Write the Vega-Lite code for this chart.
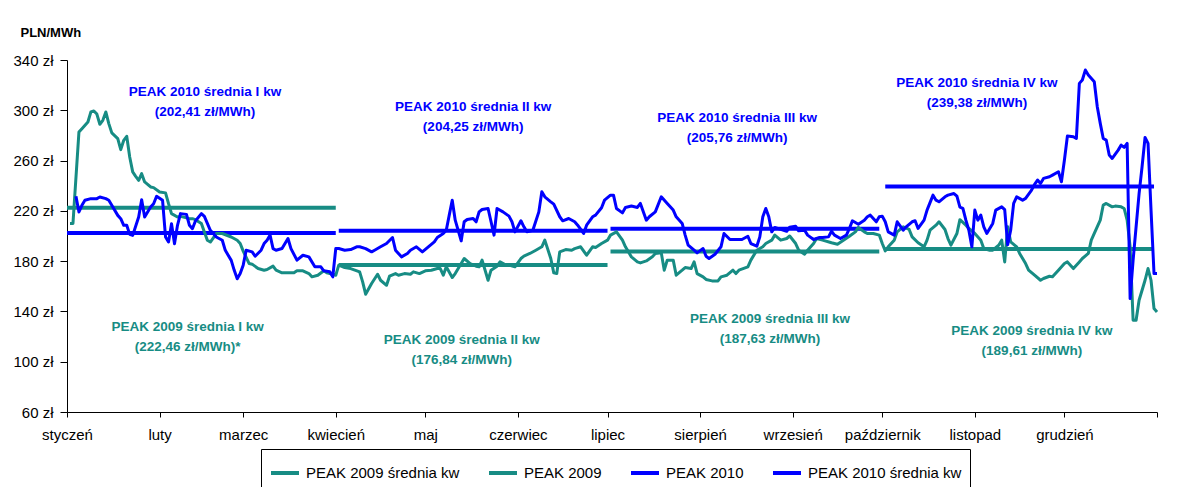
{
  "$schema": "https://vega.github.io/schema/vega-lite/v6.json",
  "width": 1090,
  "height": 352,
  "autosize": {"type": "none"},
  "padding": {"left": 67, "top": 60, "right": 29, "bottom": 75},
  "background": "white",
  "config": {
    "font": "Liberation Sans",
    "view": {"stroke": null},
    "axis": {"grid": false, "domainColor": "black", "tickColor": "black", "labelColor": "black", "labelFontSize": 15, "labelFont": "Liberation Sans", "domainWidth": 1, "tickWidth": 1}
  },
  "datasets": {
    "srednie": [
      {"seria": "PEAK 2009 średnia kw", "od": 0, "do": 90, "cena": 222.46},
      {"seria": "PEAK 2009 średnia kw", "od": 91, "do": 181, "cena": 176.84},
      {"seria": "PEAK 2009 średnia kw", "od": 182, "do": 272, "cena": 187.63},
      {"seria": "PEAK 2009 średnia kw", "od": 274, "do": 364, "cena": 189.61},
      {"seria": "PEAK 2010 średnia kw", "od": 0, "do": 90, "cena": 202.41},
      {"seria": "PEAK 2010 średnia kw", "od": 91, "do": 181, "cena": 204.25},
      {"seria": "PEAK 2010 średnia kw", "od": 182, "do": 272, "cena": 205.76},
      {"seria": "PEAK 2010 średnia kw", "od": 274, "do": 364, "cena": 239.38}
    ],
    "opisy": [
      {"rok": "2010", "dzien": 46.2, "cena": 314.5, "tekst": "PEAK 2010 średnia I kw\n(202,41 zł/MWh)"},
      {"rok": "2009", "dzien": 40.4, "cena": 128, "tekst": "PEAK 2009 średnia I kw\n(222,46 zł/MWh)*"},
      {"rok": "2010", "dzien": 136, "cena": 302.3, "tekst": "PEAK 2010 średnia II kw\n(204,25 zł/MWh)"},
      {"rok": "2009", "dzien": 132.2, "cena": 117.3, "tekst": "PEAK 2009 średnia II kw\n(176,84 zł/MWh)"},
      {"rok": "2010", "dzien": 224.4, "cena": 293.6, "tekst": "PEAK 2010 średnia III kw\n(205,76 zł/MWh)"},
      {"rok": "2009", "dzien": 235.4, "cena": 133.8, "tekst": "PEAK 2009 średnia III kw\n(187,63 zł/MWh)"},
      {"rok": "2010", "dzien": 304.7, "cena": 321.4, "tekst": "PEAK 2010 średnia IV kw\n(239,38 zł/MWh)"},
      {"rok": "2009", "dzien": 323.1, "cena": 124.6, "tekst": "PEAK 2009 średnia IV kw\n(189,61 zł/MWh)"}
    ],
    "peak2009": [
      {"dzien":1,"cena":210},{"dzien":2,"cena":210},{"dzien":4,"cena":282.8},{"dzien":5,"cena":285.4},{"dzien":7,"cena":290.7},{"dzien":8,"cena":298.7},{"dzien":9,"cena":299.5},{"dzien":10,"cena":297},{"dzien":11,"cena":288.9},{"dzien":12,"cena":292},{"dzien":13,"cena":298.7},{"dzien":14,"cena":289.4},{"dzien":15,"cena":282},{"dzien":17,"cena":277.5},{"dzien":18,"cena":268.7},{"dzien":19,"cena":276.1},{"dzien":20,"cena":279.3},{"dzien":21,"cena":262.9},{"dzien":22,"cena":251},{"dzien":23,"cena":247.5},{"dzien":24,"cena":244.3},{"dzien":25,"cena":249.6},{"dzien":26,"cena":243},{"dzien":27,"cena":241.1},{"dzien":28,"cena":239},{"dzien":29,"cena":238.5},{"dzien":31,"cena":235},{"dzien":33,"cena":234.3},{"dzien":34,"cena":225.7},{"dzien":35,"cena":217.8},{"dzien":37,"cena":215.1},{"dzien":38,"cena":215.6},{"dzien":41,"cena":213.8},{"dzien":42,"cena":213.8},{"dzien":43,"cena":213},{"dzien":45,"cena":210},{"dzien":46,"cena":203.2},{"dzien":47,"cena":196.6},{"dzien":48,"cena":195.2},{"dzien":50,"cena":201.9},{"dzien":52,"cena":202},{"dzien":55,"cena":199.2},{"dzien":57,"cena":196.6},{"dzien":58,"cena":194},{"dzien":59,"cena":188},{"dzien":61,"cena":178.1},{"dzien":62,"cena":177.6},{"dzien":64,"cena":174.1},{"dzien":66,"cena":172.8},{"dzien":67,"cena":173.3},{"dzien":69,"cena":176},{"dzien":70,"cena":172.8},{"dzien":72,"cena":170.7},{"dzien":74,"cena":170.7},{"dzien":76,"cena":170.7},{"dzien":77,"cena":172.3},{"dzien":79,"cena":172.3},{"dzien":81,"cena":170.1},{"dzien":82,"cena":167.5},{"dzien":84,"cena":168.8},{"dzien":86,"cena":172.3},{"dzien":87,"cena":170.7},{"dzien":89,"cena":169.6},{"dzien":90,"cena":168.8},{"dzien":91,"cena":176.8},{"dzien":93,"cena":174.9},{"dzien":95,"cena":174.1},{"dzien":98,"cena":171.5},{"dzien":99,"cena":163.5},{"dzien":100,"cena":153.7},{"dzien":102,"cena":162.2},{"dzien":104,"cena":169.6},{"dzien":105,"cena":164.8},{"dzien":107,"cena":160.8},{"dzien":108,"cena":168},{"dzien":110,"cena":170.1},{"dzien":111,"cena":168.8},{"dzien":113,"cena":170.1},{"dzien":115,"cena":169.6},{"dzien":116,"cena":171.5},{"dzien":118,"cena":170.1},{"dzien":120,"cena":172.3},{"dzien":122,"cena":172.8},{"dzien":124,"cena":174.1},{"dzien":125,"cena":174.1},{"dzien":126,"cena":168.8},{"dzien":127,"cena":175.5},{"dzien":129,"cena":167},{"dzien":130,"cena":170.1},{"dzien":131,"cena":174.1},{"dzien":133,"cena":182.1},{"dzien":135,"cena":178.1},{"dzien":137,"cena":176},{"dzien":138,"cena":175.5},{"dzien":139,"cena":180.8},{"dzien":141,"cena":164.8},{"dzien":142,"cena":172.8},{"dzien":144,"cena":176},{"dzien":145,"cena":179.4},{"dzien":147,"cena":176.8},{"dzien":148,"cena":176.8},{"dzien":150,"cena":175.5},{"dzien":152,"cena":182.1},{"dzien":153,"cena":184},{"dzien":155,"cena":186.1},{"dzien":157,"cena":188.7},{"dzien":159,"cena":191.4},{"dzien":160,"cena":196.7},{"dzien":162,"cena":182.1},{"dzien":163,"cena":170.7},{"dzien":164,"cena":170.1},{"dzien":165,"cena":187.4},{"dzien":167,"cena":189.2},{"dzien":169,"cena":188.7},{"dzien":170,"cena":190},{"dzien":172,"cena":191.4},{"dzien":174,"cena":184.7},{"dzien":176,"cena":191.4},{"dzien":177,"cena":190.8},{"dzien":179,"cena":194},{"dzien":181,"cena":196.7},{"dzien":182,"cena":200.7},{"dzien":184,"cena":203.3},{"dzien":186,"cena":196.7},{"dzien":187,"cena":191.4},{"dzien":189,"cena":183.4},{"dzien":191,"cena":179.4},{"dzien":192,"cena":178.6},{"dzien":194,"cena":180.2},{"dzien":196,"cena":183.4},{"dzien":197,"cena":186.1},{"dzien":199,"cena":186.6},{"dzien":200,"cena":172.8},{"dzien":201,"cena":180.8},{"dzien":203,"cena":180.8},{"dzien":204,"cena":168.8},{"dzien":206,"cena":172.8},{"dzien":207,"cena":174.9},{"dzien":209,"cena":174.1},{"dzien":210,"cena":179.4},{"dzien":211,"cena":170.1},{"dzien":213,"cena":167.5},{"dzien":214,"cena":165.4},{"dzien":216,"cena":164.3},{"dzien":218,"cena":164.3},{"dzien":219,"cena":167.5},{"dzien":221,"cena":168.8},{"dzien":223,"cena":172.8},{"dzien":224,"cena":170.1},{"dzien":225,"cena":172.8},{"dzien":228,"cena":175.5},{"dzien":229,"cena":180.8},{"dzien":231,"cena":188.7},{"dzien":233,"cena":191.4},{"dzien":234,"cena":194},{"dzien":236,"cena":196.7},{"dzien":237,"cena":200.7},{"dzien":239,"cena":196.7},{"dzien":241,"cena":198},{"dzien":242,"cena":200},{"dzien":244,"cena":194},{"dzien":245,"cena":188.7},{"dzien":247,"cena":185.5},{"dzien":248,"cena":188.7},{"dzien":250,"cena":194},{"dzien":251,"cena":198},{"dzien":253,"cena":196.7},{"dzien":256,"cena":194.6},{"dzien":258,"cena":193.5},{"dzien":260,"cena":196.7},{"dzien":262,"cena":199.8},{"dzien":264,"cena":203.3},{"dzien":265,"cena":206.8},{"dzien":267,"cena":203.3},{"dzien":268,"cena":202},{"dzien":270,"cena":202},{"dzien":272,"cena":200.7},{"dzien":273,"cena":194},{"dzien":274,"cena":188.2},{"dzien":275,"cena":191.4},{"dzien":277,"cena":196.7},{"dzien":278,"cena":203.3},{"dzien":280,"cena":207.3},{"dzien":282,"cena":205.2},{"dzien":283,"cena":199.3},{"dzien":285,"cena":194.6},{"dzien":287,"cena":191.4},{"dzien":288,"cena":196.7},{"dzien":289,"cena":204.6},{"dzien":291,"cena":208.6},{"dzien":292,"cena":211.3},{"dzien":294,"cena":205.2},{"dzien":295,"cena":198},{"dzien":296,"cena":192.7},{"dzien":298,"cena":202},{"dzien":299,"cena":213},{"dzien":301,"cena":208.6},{"dzien":302,"cena":206},{"dzien":304,"cena":202},{"dzien":306,"cena":196.7},{"dzien":307,"cena":190},{"dzien":309,"cena":188.7},{"dzien":310,"cena":188.7},{"dzien":312,"cena":192.7},{"dzien":313,"cena":196.7},{"dzien":314,"cena":179.4},{"dzien":315,"cena":207.3},{"dzien":316,"cena":195.4},{"dzien":318,"cena":191.4},{"dzien":319,"cena":186.1},{"dzien":321,"cena":178.1},{"dzien":322,"cena":172.8},{"dzien":324,"cena":168.8},{"dzien":326,"cena":164.8},{"dzien":327,"cena":166.2},{"dzien":329,"cena":168},{"dzien":330,"cena":167.5},{"dzien":332,"cena":172.8},{"dzien":334,"cena":178.1},{"dzien":335,"cena":179.4},{"dzien":337,"cena":174.1},{"dzien":339,"cena":179.4},{"dzien":340,"cena":182.1},{"dzien":342,"cena":186.1},{"dzien":343,"cena":196.7},{"dzien":344,"cena":202},{"dzien":346,"cena":212.6},{"dzien":347,"cena":224.6},{"dzien":348,"cena":225.9},{"dzien":350,"cena":223.2},{"dzien":351,"cena":223.8},{"dzien":353,"cena":223.2},{"dzien":354,"cena":221.9},{"dzien":355,"cena":212.6},{"dzien":356,"cena":191.4},{"dzien":357,"cena":133},{"dzien":358,"cena":133},{"dzien":359,"cena":148.9},{"dzien":361,"cena":164.8},{"dzien":362,"cena":174.1},{"dzien":363,"cena":164.8},{"dzien":364,"cena":142.3},{"dzien":365,"cena":139.6}
    ],
    "peak2010": [
      {"dzien":3,"cena":231.6},{"dzien":4,"cena":219.1},{"dzien":5,"cena":224.4},{"dzien":6,"cena":228.4},{"dzien":8,"cena":229.7},{"dzien":10,"cena":229.7},{"dzien":11,"cena":231},{"dzien":13,"cena":229.7},{"dzien":14,"cena":228.4},{"dzien":15,"cena":224.4},{"dzien":17,"cena":216.4},{"dzien":18,"cena":213.8},{"dzien":19,"cena":208.5},{"dzien":20,"cena":208.5},{"dzien":21,"cena":201.3},{"dzien":22,"cena":200.5},{"dzien":24,"cena":215.1},{"dzien":25,"cena":228.9},{"dzien":26,"cena":215.1},{"dzien":28,"cena":223.1},{"dzien":29,"cena":225.7},{"dzien":30,"cena":231.6},{"dzien":32,"cena":228.4},{"dzien":33,"cena":199.2},{"dzien":34,"cena":195.2},{"dzien":35,"cena":209.8},{"dzien":36,"cena":193.9},{"dzien":37,"cena":208.5},{"dzien":38,"cena":217.8},{"dzien":40,"cena":217.2},{"dzien":41,"cena":208.5},{"dzien":42,"cena":205.8},{"dzien":43,"cena":211.9},{"dzien":45,"cena":217.8},{"dzien":46,"cena":215.6},{"dzien":48,"cena":204.5},{"dzien":50,"cena":199.2},{"dzien":52,"cena":196.6},{"dzien":53,"cena":188.6},{"dzien":55,"cena":180.6},{"dzien":56,"cena":172.7},{"dzien":57,"cena":166},{"dzien":58,"cena":170.1},{"dzien":59,"cena":176.8},{"dzien":60,"cena":188.7},{"dzien":62,"cena":187.4},{"dzien":63,"cena":183.9},{"dzien":65,"cena":188.7},{"dzien":66,"cena":194},{"dzien":67,"cena":196.7},{"dzien":68,"cena":200.7},{"dzien":69,"cena":190},{"dzien":70,"cena":188.7},{"dzien":72,"cena":190},{"dzien":74,"cena":198},{"dzien":75,"cena":190},{"dzien":77,"cena":180.8},{"dzien":79,"cena":184.7},{"dzien":81,"cena":183.4},{"dzien":83,"cena":175.5},{"dzien":85,"cena":175.5},{"dzien":86,"cena":172.3},{"dzien":88,"cena":171.5},{"dzien":89,"cena":167.5},{"dzien":90,"cena":190},{"dzien":91,"cena":190},{"dzien":93,"cena":188.7},{"dzien":95,"cena":189.2},{"dzien":97,"cena":191.4},{"dzien":98,"cena":191.4},{"dzien":100,"cena":190},{"dzien":102,"cena":187.4},{"dzien":103,"cena":188.7},{"dzien":105,"cena":191.4},{"dzien":107,"cena":194},{"dzien":109,"cena":198.8},{"dzien":110,"cena":188.7},{"dzien":112,"cena":183.4},{"dzien":114,"cena":186.1},{"dzien":115,"cena":188.7},{"dzien":117,"cena":191.4},{"dzien":119,"cena":187.4},{"dzien":121,"cena":191.4},{"dzien":123,"cena":195.4},{"dzien":124,"cena":198.8},{"dzien":126,"cena":202},{"dzien":127,"cena":204.6},{"dzien":128,"cena":216.6},{"dzien":129,"cena":228.5},{"dzien":130,"cena":212.6},{"dzien":132,"cena":196.1},{"dzien":133,"cena":211.3},{"dzien":134,"cena":213.1},{"dzien":136,"cena":213.9},{"dzien":137,"cena":211.3},{"dzien":138,"cena":219.2},{"dzien":139,"cena":221.1},{"dzien":141,"cena":221.9},{"dzien":142,"cena":211.3},{"dzien":143,"cena":200.7},{"dzien":144,"cena":221.9},{"dzien":146,"cena":219.2},{"dzien":148,"cena":215.8},{"dzien":149,"cena":211.3},{"dzien":150,"cena":203.3},{"dzien":152,"cena":212.1},{"dzien":153,"cena":207.3},{"dzien":154,"cena":203.3},{"dzien":156,"cena":204.6},{"dzien":158,"cena":219.2},{"dzien":159,"cena":235.2},{"dzien":160,"cena":231.2},{"dzien":162,"cena":227.2},{"dzien":163,"cena":225.3},{"dzien":165,"cena":215.3},{"dzien":166,"cena":212.1},{"dzien":168,"cena":213.9},{"dzien":170,"cena":211.3},{"dzien":171,"cena":208.6},{"dzien":173,"cena":202},{"dzien":174,"cena":208.6},{"dzien":176,"cena":215.3},{"dzien":177,"cena":216.6},{"dzien":179,"cena":222.5},{"dzien":180,"cena":228.5},{"dzien":182,"cena":232.5},{"dzien":183,"cena":232.5},{"dzien":184,"cena":221.9},{"dzien":186,"cena":218.4},{"dzien":187,"cena":222.7},{"dzien":189,"cena":223.8},{"dzien":191,"cena":222.7},{"dzien":192,"cena":225.9},{"dzien":194,"cena":212.6},{"dzien":195,"cena":215.3},{"dzien":197,"cena":219.2},{"dzien":199,"cena":231.2},{"dzien":201,"cena":225.9},{"dzien":203,"cena":220.6},{"dzien":204,"cena":215.3},{"dzien":206,"cena":210},{"dzien":207,"cena":200.7},{"dzien":208,"cena":192.7},{"dzien":210,"cena":188.7},{"dzien":211,"cena":186.6},{"dzien":213,"cena":190},{"dzien":214,"cena":183.9},{"dzien":215,"cena":182.1},{"dzien":217,"cena":185.5},{"dzien":219,"cena":191.4},{"dzien":220,"cena":202},{"dzien":222,"cena":197.2},{"dzien":224,"cena":197.2},{"dzien":226,"cena":197.2},{"dzien":228,"cena":199.8},{"dzien":229,"cena":194},{"dzien":231,"cena":191.9},{"dzien":232,"cena":199.3},{"dzien":233,"cena":215.3},{"dzien":234,"cena":221.9},{"dzien":235,"cena":215.3},{"dzien":236,"cena":203.3},{"dzien":237,"cena":206.8},{"dzien":239,"cena":205.3},{"dzien":241,"cena":203.7},{"dzien":242,"cena":207},{"dzien":244,"cena":207.8},{"dzien":245,"cena":204.1},{"dzien":247,"cena":204.6},{"dzien":248,"cena":200.7},{"dzien":250,"cena":197.2},{"dzien":252,"cena":198.8},{"dzien":253,"cena":198.8},{"dzien":255,"cena":199.3},{"dzien":256,"cena":203.8},{"dzien":257,"cena":200.7},{"dzien":259,"cena":198},{"dzien":261,"cena":200.7},{"dzien":262,"cena":206},{"dzien":263,"cena":212.1},{"dzien":265,"cena":209.4},{"dzien":267,"cena":212.6},{"dzien":268,"cena":215.3},{"dzien":269,"cena":216.6},{"dzien":271,"cena":211.3},{"dzien":272,"cena":215.3},{"dzien":273,"cena":215.8},{"dzien":274,"cena":211.3},{"dzien":275,"cena":203.3},{"dzien":277,"cena":200.7},{"dzien":278,"cena":211.3},{"dzien":280,"cena":204.6},{"dzien":281,"cena":207.3},{"dzien":283,"cena":211.3},{"dzien":284,"cena":212.1},{"dzien":285,"cena":206},{"dzien":287,"cena":212.6},{"dzien":288,"cena":220.6},{"dzien":290,"cena":232.5},{"dzien":291,"cena":228.5},{"dzien":292,"cena":227.2},{"dzien":294,"cena":231.2},{"dzien":295,"cena":232.5},{"dzien":297,"cena":233.8},{"dzien":298,"cena":231.7},{"dzien":299,"cena":223},{"dzien":300,"cena":222},{"dzien":301,"cena":212.6},{"dzien":302,"cena":204.6},{"dzien":303,"cena":191.4},{"dzien":304,"cena":220.6},{"dzien":305,"cena":212.6},{"dzien":306,"cena":216.6},{"dzien":307,"cena":207.3},{"dzien":308,"cena":202},{"dzien":310,"cena":210},{"dzien":311,"cena":220.6},{"dzien":313,"cena":223.2},{"dzien":314,"cena":221},{"dzien":315,"cena":193},{"dzien":316,"cena":204.6},{"dzien":317,"cena":225.9},{"dzien":318,"cena":231.2},{"dzien":320,"cena":228.5},{"dzien":321,"cena":229.9},{"dzien":323,"cena":236.5},{"dzien":324,"cena":241},{"dzien":325,"cena":244.5},{"dzien":326,"cena":241.8},{"dzien":327,"cena":245.8},{"dzien":329,"cena":247.1},{"dzien":330,"cena":248.4},{"dzien":332,"cena":251.1},{"dzien":333,"cena":243.1},{"dzien":334,"cena":260.4},{"dzien":335,"cena":279.5},{"dzien":337,"cena":279},{"dzien":338,"cena":277.6},{"dzien":339,"cena":321.4},{"dzien":340,"cena":324.1},{"dzien":341,"cena":332},{"dzien":342,"cena":328.1},{"dzien":344,"cena":322.7},{"dzien":345,"cena":302.8},{"dzien":346,"cena":289.6},{"dzien":347,"cena":277.6},{"dzien":348,"cena":276.3},{"dzien":349,"cena":264.4},{"dzien":350,"cena":261.7},{"dzien":352,"cena":268.3},{"dzien":353,"cena":272.3},{"dzien":354,"cena":270.5},{"dzien":355,"cena":273.7},{"dzien":356,"cena":150.2},{"dzien":357,"cena":180.8},{"dzien":359,"cena":233.8},{"dzien":360,"cena":255.1},{"dzien":361,"cena":278.4},{"dzien":362,"cena":273.7},{"dzien":363,"cena":220.6},{"dzien":364,"cena":170.1},{"dzien":365,"cena":170.1}
    ]
  },
  "layer": [
    {
      "data": {"name": "srednie"},
      "mark": {"type": "rule", "strokeWidth": 4, "strokeCap": "butt"},
      "encoding": {
        "x": {
          "field": "od", "type": "quantitative",
          "scale": {"domain": [0, 365], "nice": false, "zero": false},
          "axis": {
            "title": null,
            "values": [0, 31, 59, 90, 120, 151, 181, 212, 243, 273, 304, 334, 365],
            "labelExpr": "['styczeń','luty','marzec','kwiecień','maj','czerwiec','lipiec','sierpień','wrzesień','październik','listopad','grudzień',''][indexof([0,31,59,90,120,151,181,212,243,273,304,334,365], datum.value)]",
            "tickSize": 5, "labelPadding": 10, "labelFlush": false, "labelOverlap": false, "labelBound": false
          }
        },
        "x2": {"field": "do"},
        "y": {
          "field": "cena", "type": "quantitative",
          "scale": {"domain": [60, 340], "nice": false, "zero": false},
          "axis": {
            "values": [60, 100, 140, 180, 220, 260, 300, 340],
            "labelExpr": "datum.value + ' zł'",
            "tickSize": 7, "labelPadding": 7,
            "title": "PLN/MWh", "titleAngle": 0, "titleAlign": "left", "titleBaseline": "middle",
            "titleX": -47, "titleY": -28, "titleFontSize": 13, "titleFontWeight": "bold", "titleColor": "black", "titleFont": "Liberation Sans"
          }
        },
        "color": {
          "field": "seria", "type": "nominal",
          "scale": {
            "domain": ["PEAK 2009 średnia kw", "PEAK 2009", "PEAK 2010", "PEAK 2010 średnia kw"],
            "range": ["#178C84", "#178C84", "#0000FF", "#0000FF"]
          },
          "legend": {
            "title": null, "orient": "none", "legendX": 194, "legendY": 389,
            "direction": "horizontal", "columns": 4,
            "symbolType": "stroke", "symbolSize": 784, "symbolStrokeWidth": 4,
            "labelFontSize": 15, "labelColor": "black", "labelFont": "Liberation Sans", "labelOffset": 5, "labelLimit": 400,
            "columnPadding": 21, "padding": 8,
            "strokeColor": "black", "fillColor": "white"
          }
        }
      }
    },
    {
      "data": {"name": "peak2009"},
      "mark": {"type": "line", "strokeWidth": 3, "strokeJoin": "round"},
      "encoding": {
        "x": {"field": "dzien", "type": "quantitative"},
        "y": {"field": "cena", "type": "quantitative"},
        "color": {"datum": "PEAK 2009"}
      }
    },
    {
      "data": {"name": "peak2010"},
      "mark": {"type": "line", "strokeWidth": 3, "strokeJoin": "round"},
      "encoding": {
        "x": {"field": "dzien", "type": "quantitative"},
        "y": {"field": "cena", "type": "quantitative"},
        "color": {"datum": "PEAK 2010"}
      }
    },
    {
      "data": {"name": "opisy"},
      "transform": [{"filter": "datum.rok == '2009'"}],
      "mark": {"type": "text", "fontWeight": "bold", "fontSize": 13.5, "lineBreak": "\n", "lineHeight": 20, "align": "center", "baseline": "middle", "color": "#178C84", "font": "Liberation Sans"},
      "encoding": {
        "x": {"field": "dzien", "type": "quantitative"},
        "y": {"field": "cena", "type": "quantitative"},
        "text": {"field": "tekst"}
      }
    },
    {
      "data": {"name": "opisy"},
      "transform": [{"filter": "datum.rok == '2010'"}],
      "mark": {"type": "text", "fontWeight": "bold", "fontSize": 13.5, "lineBreak": "\n", "lineHeight": 20, "align": "center", "baseline": "middle", "color": "#0000FF", "font": "Liberation Sans"},
      "encoding": {
        "x": {"field": "dzien", "type": "quantitative"},
        "y": {"field": "cena", "type": "quantitative"},
        "text": {"field": "tekst"}
      }
    }
  ]
}
